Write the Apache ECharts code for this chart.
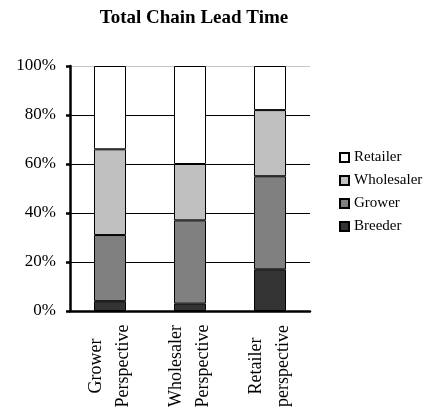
<!DOCTYPE html>
<html><head><meta charset="utf-8">
<script src="https://cdn.jsdelivr.net/npm/echarts@6/dist/echarts.min.js"></script>
<style>html,body{margin:0;padding:0;background:#fff}#c{width:429px;height:418px}</style>
</head><body><div id="c"></div>
<script>
const categories = ['Grower\nPerspective', 'Wholesaler\nPerspective', 'Retailer\nperspective'];
const breeder = [4, 3, 17];
const grower = [27, 34, 38];
const wholesaler = [35, 23, 27];
const retailer = [34, 40, 18];
const yTicks = ['0%', '20%', '40%', '60%', '80%', '100%'];

const font = 'Liberation Serif, Times New Roman, serif';
const mk = (name, data, color) => ({
  name, type: 'bar', stack: 's', data, barWidth: '40%',
  itemStyle: { color, borderColor: '#000', borderWidth: 1 }
});
const chart = echarts.init(document.getElementById('c'));
chart.setOption({
  animation: false,
  title: { text: 'Total Chain Lead Time', left: 189, textAlign: 'center', top: 4,
    textStyle: { fontFamily: font, fontSize: 19, fontWeight: 'bold', color: '#000' } },
  grid: { left: 70, right: 119, top: 66, bottom: 107 },
  legend: {
    data: ['Retailer', 'Wholesaler', 'Grower', 'Breeder'],
    orient: 'vertical', left: 334, top: 145, itemWidth: 9, itemHeight: 9, itemGap: 8,
    icon: 'rect',
    textStyle: { fontFamily: font, fontSize: 15, lineHeight: 15, color: '#000' }
  },
  xAxis: {
    type: 'category', data: categories,
    axisLine: { lineStyle: { color: '#000', width: 2.5 } },
    axisTick: { length: 5, lineStyle: { color: '#000', width: 2.5 } },
    axisLabel: { rotate: 90, align: 'center', verticalAlign: 'middle', margin: 55,
      fontFamily: font, fontSize: 18, lineHeight: 27, color: '#000', interval: 0 }
  },
  yAxis: {
    type: 'value', min: 0, max: 100, interval: 20,
    axisLine: { show: true, lineStyle: { color: '#000', width: 2.5 } },
    axisTick: { show: true, length: 4, lineStyle: { color: '#000', width: 2.5 } },
    splitLine: { lineStyle: { color: ['#000', '#000', '#000', '#000', '#000', '#c8c8c8'], width: 1 } },
    axisLabel: { formatter: v => yTicks[v / 20], fontFamily: font, fontSize: 17, color: '#000', margin: 14 }
  },
  series: [
    mk('Breeder', breeder, '#333333'),
    mk('Grower', grower, '#808080'),
    mk('Wholesaler', wholesaler, '#c0c0c0'),
    mk('Retailer', retailer, '#ffffff')
  ]
});
</script></body></html>
